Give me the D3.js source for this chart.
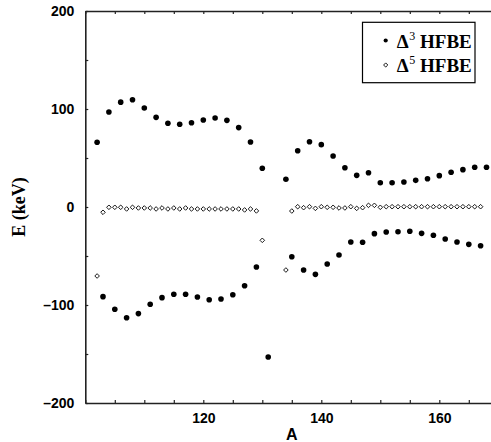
<!DOCTYPE html>
<html>
<head>
<meta charset="utf-8">
<script src="https://cdn.jsdelivr.net/npm/d3@7"></script>
<style>
  html, body { margin: 0; padding: 0; background: #fff; }
  svg { display: block; }
</style>
</head>
<body>
<svg id="chart" width="491" height="442"></svg>
<script>
// ---- data ----
// Δ3 HFBE (filled circles)
const d3A = [102,104,106,108,110,112,114,116,118,120,122,124,126,128,130,
             134,136,138,140,142,144,146,148,150,152,154,156,158,160,162,164,166,168,
             103,105,107,109,111,113,115,117,119,121,123,125,127,129,131,
             135,137,139,141,143,145,147,149,151,153,155,157,159,161,163,165,167];
const d3E = [66,97,107,109.5,101,91.5,85.4,84.4,86,88.8,90.8,88.4,81,66.3,39.5,
             28.3,57.4,66.6,63.6,52,40,32.3,35,24.8,24.8,25.5,27.2,28.9,32,35.4,38.1,40.5,40.5,
             -91.5,-104.4,-113,-108.8,-99.3,-92.5,-89.1,-89.1,-91.8,-94.6,-93.9,-89.5,-80.3,-61.2,-153,
             -50.7,-64.3,-68.7,-58.2,-49,-35.7,-36,-27.2,-25.5,-25.2,-24.8,-26.9,-28.9,-32.7,-35.7,-38.1,-39.5];
// Δ5 HFBE (open diamonds)
const d5A = [102,103,104,105,106,107,108,109,110,111,112,113,114,115,116,117,118,119,120,
             121,122,123,124,125,126,127,128,129,130,
             134,135,136,137,138,139,140,141,142,143,144,145,146,147,148,149,150,
             151,152,153,154,155,156,157,158,159,160,161,162,163,164,165,166,167];
const d5E = [-70.4,-5.4,-0.3,-0.3,-0.3,-2,-0.3,-1,-1,-1,-2,-1,-2,-1,-2,-1,-2,-2,-2,
             -2,-2,-2,-2,-2,-2,-3,-2,-4,-34,
             -64.3,-4.1,0.3,-0.7,0.3,-1.4,0.3,-0.3,-0.3,-1,-1,0.3,-1.4,-0.7,1.7,1.7,-0.3,
             0.3,0.3,0.3,0.3,0.3,0.3,0.3,0.3,0.3,0.3,0.3,0.3,0.3,0.3,0.3,0.3,0.3];
const xTickLabels = [120, 140, 160];
const yTickLabels = [-200, -100, 0, 100, 200];
const legendLabels = [["3", "HFBE"], ["5", "HFBE"]];

// ---- layout ----
const svg = d3.select("#chart");
const mLeft = 85.3, mRight = 498.3, mTop = 11, mBottom = 403;
const x = d3.scaleLinear().domain([100, 170]).range([mLeft, mRight]);
const y = d3.scaleLinear().domain([-200, 200]).range([mBottom, mTop]);

const axisColor = "#222";
const sans = "'Liberation Sans', Arial, sans-serif";
const serif = "'Liberation Serif', 'Times New Roman', serif";

function styleAxis(g) {
  g.select(".domain").attr("stroke", axisColor).attr("stroke-width", 1.6);
  g.selectAll(".tick line").attr("stroke", axisColor).attr("stroke-width", 1.2);
  g.selectAll(".tick text")
    .attr("font-family", sans).attr("font-weight", "bold")
    .attr("font-size", 14).attr("fill", "#000");
}

const fmt = d => (d < 0 ? "\u2013" + Math.abs(d) : String(d));

// bottom axis
svg.append("g").attr("transform", `translate(0,${mBottom})`)
  .call(d3.axisBottom(x).tickValues(d3.range(100, 171, 5))
    .tickSize(-3).tickSizeOuter(0).tickPadding(8)
    .tickFormat(d => xTickLabels.includes(d) ? fmt(d) : ""))
  .call(styleAxis)
  .call(g => g.selectAll(".tick text").attr("dy", "0.78em").attr("y", 9));

// top axis
svg.append("g").attr("transform", `translate(0,${mTop})`)
  .call(d3.axisTop(x).tickValues(d3.range(100, 171, 5))
    .tickSize(-3).tickSizeOuter(0).tickFormat(""))
  .call(styleAxis);

// left axis
svg.append("g").attr("transform", `translate(${mLeft},0)`)
  .call(d3.axisLeft(y).tickValues(d3.range(-200, 201, 50))
    .tickSize(-3).tickSizeOuter(0).tickPadding(11)
    .tickFormat(d => yTickLabels.includes(d) ? fmt(d) : ""))
  .call(styleAxis);

// axis titles
svg.append("text")
  .attr("x", (mLeft + mRight) / 2).attr("y", 439.5)
  .attr("text-anchor", "middle")
  .attr("font-family", sans).attr("font-weight", "bold").attr("font-size", 16)
  .text("A");

svg.append("text")
  .attr("transform", `translate(24.5,${(mTop + mBottom) / 2}) rotate(-90)`)
  .attr("text-anchor", "middle")
  .attr("font-family", serif).attr("font-weight", "bold").attr("font-size", 18)
  .text("E (keV)");

// ---- marks ----
const plot = svg.append("g");
const diamond = (cx, cy, r) => `M${cx},${cy - r}L${cx + r},${cy}L${cx},${cy + r}L${cx - r},${cy}Z`;

plot.selectAll("path.d5").data(d5A).join("path")
  .attr("class", "d5")
  .attr("d", (a, i) => diamond(x(a), y(d5E[i]), 2.3))
  .attr("fill", "#fff").attr("stroke", "#000").attr("stroke-width", 0.9);

plot.selectAll("circle.d3").data(d3A).join("circle")
  .attr("class", "d3")
  .attr("cx", a => x(a)).attr("cy", (a, i) => y(d3E[i]))
  .attr("r", 2.8).attr("fill", "#000");

// ---- legend ----
const lg = svg.append("g");
lg.append("rect")
  .attr("x", 362.5).attr("y", 22.3).attr("width", 112.5).attr("height", 60.4)
  .attr("fill", "#fff").attr("stroke", "#000").attr("stroke-width", 1.2);

const rowY = [47.5, 71.5];
legendLabels.forEach(([sup, label], i) => {
  const by = rowY[i];
  if (i === 0) {
    lg.append("circle").attr("cx", 385.7).attr("cy", by - 7).attr("r", 2.1).attr("fill", "#000");
  } else {
    lg.append("path").attr("d", diamond(385.7, by - 6.5, 2.1))
      .attr("fill", "#fff").attr("stroke", "#000").attr("stroke-width", 0.9);
  }
  lg.append("text").attr("x", 396.7).attr("y", by)
    .attr("font-family", serif).attr("font-weight", "bold").attr("font-size", 19)
    .text("\u0394");
  lg.append("text").attr("x", 409.3).attr("y", by - 8)
    .attr("font-family", serif).attr("font-size", 12)
    .text(sup);
  lg.append("text").attr("x", 420).attr("y", by)
    .attr("font-family", serif).attr("font-weight", "bold").attr("font-size", 19)
    .text(label);
});
</script>
</body>
</html>
